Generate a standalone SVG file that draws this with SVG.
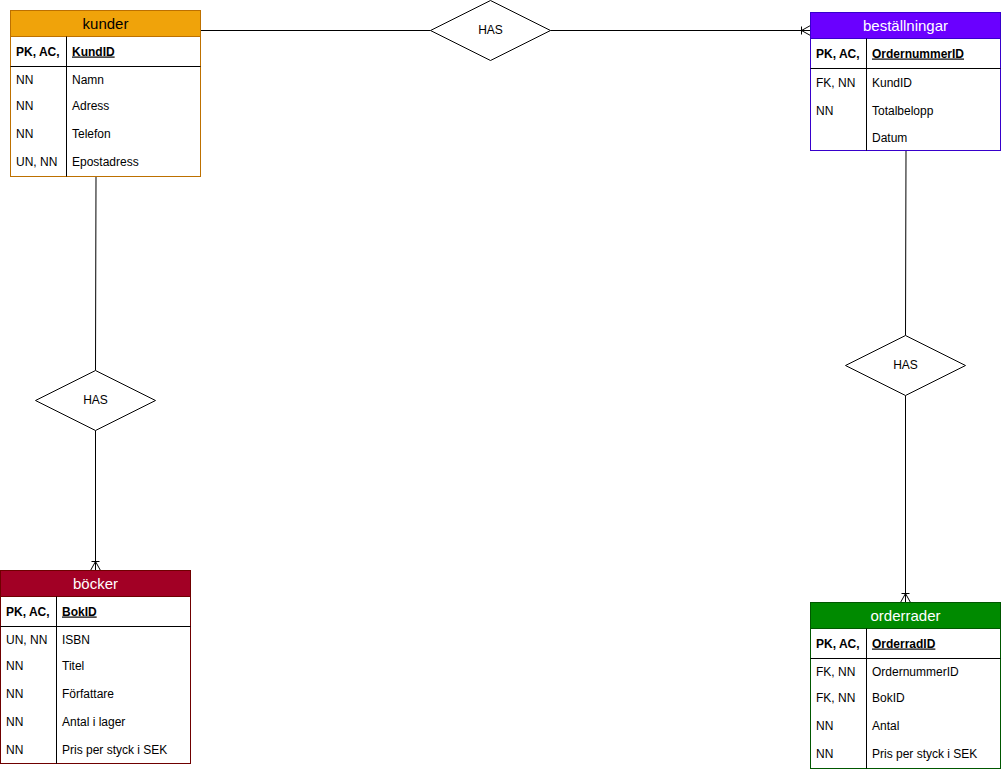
<svg xmlns="http://www.w3.org/2000/svg" width="1002" height="772" viewBox="0 0 1002 772">
<style>
text{font-family:"Liberation Sans",Arial,sans-serif;font-size:12px;fill:#000}
.title{font-size:15px;text-anchor:middle}
.w{fill:#fff}
.b{font-weight:bold}
.u{text-decoration:underline;font-weight:bold}
.line{stroke:#000;stroke-width:1;fill:none}
.rel{fill:#fff;stroke:#000;stroke-width:1}
.rel-t{text-anchor:middle}
</style>
<rect width="1002" height="772" fill="#fff"/>
<g id="connectors">
  <path class="line" d="M200.5 30.5 H430.5"/>
  <path class="line" d="M550.5 30.5 H810.5"/>
  <path class="line" d="M801.5 26.5 V34.5 M801.5 30.5 L810.5 25.5 M801.5 30.5 L810.5 35.5"/>
  <path class="line" d="M96 176.5 L95.5 370.5"/>
  <path class="line" d="M95.5 430.5 V570.5"/>
  <path class="line" d="M91.5 561.5 H99.5 M95.5 561.5 L90.5 570.5 M95.5 561.5 L100.5 570.5"/>
  <path class="line" d="M906 150.5 L905.5 335.5"/>
  <path class="line" d="M905.5 395.5 V602.5"/>
  <path class="line" d="M901.5 593.5 H909.5 M905.5 593.5 L900.5 602.5 M905.5 593.5 L910.5 602.5"/>
</g>
<g id="rel-top">
  <polygon class="rel" points="490.5,0.5 550.5,30.5 490.5,60.5 430.5,30.5"/>
  <text class="rel-t" x="490.5" y="34">HAS</text>
</g>
<g id="rel-left">
  <polygon class="rel" points="95.5,370.5 155.5,400.5 95.5,430.5 35.5,400.5"/>
  <text class="rel-t" x="95.5" y="404">HAS</text>
</g>
<g id="rel-right">
  <polygon class="rel" points="905.5,335.5 965.5,365.5 905.5,395.5 845.5,365.5"/>
  <text class="rel-t" x="905.5" y="369">HAS</text>
</g>
<g id="kunder">
  <rect x="10.5" y="10.5" width="190" height="166" fill="#fff" stroke="#BD7000"/>
  <rect x="10.5" y="10.5" width="190" height="26" fill="#f0a30a" stroke="#BD7000"/>
  <path class="line" d="M10.5 66.5 H200.5 M66.5 36.5 V176.5"/>
  <text class="title" x="105.5" y="28.5">kunder</text>
  <text class="b" x="16" y="55.5">PK, AC,</text>
  <text class="u" x="72" y="55.5">KundID</text>
  <text x="16" y="84">NN</text><text x="72" y="84">Namn</text>
  <text x="16" y="110">NN</text><text x="72" y="110">Adress</text>
  <text x="16" y="138">NN</text><text x="72" y="138">Telefon</text>
  <text x="16" y="166">UN, NN</text><text x="72" y="166">Epostadress</text>
</g>
<g id="bestallningar">
  <rect x="810.5" y="12.5" width="190" height="138" fill="#fff" stroke="#3700CC"/>
  <rect x="810.5" y="12.5" width="190" height="26" fill="#6a00ff" stroke="#3700CC"/>
  <path class="line" d="M810.5 68.5 H1000.5 M866.5 38.5 V150.5"/>
  <text class="title w" x="905.5" y="30.5">beställningar</text>
  <text class="b" x="816" y="57.5">PK, AC,</text>
  <text class="u" x="872" y="57.5">OrdernummerID</text>
  <text x="816" y="87">FK, NN</text><text x="872" y="87">KundID</text>
  <text x="816" y="115">NN</text><text x="872" y="115">Totalbelopp</text>
  <text x="872" y="142">Datum</text>
</g>
<g id="bocker">
  <rect x="0.5" y="570.5" width="190" height="193" fill="#fff" stroke="#6F0000"/>
  <rect x="0.5" y="570.5" width="190" height="26" fill="#a20025" stroke="#6F0000"/>
  <path class="line" d="M0.5 626.5 H190.5 M56.5 596.5 V763.5"/>
  <text class="title w" x="95.5" y="588.5">böcker</text>
  <text class="b" x="6" y="615.5">PK, AC,</text>
  <text class="u" x="62" y="615.5">BokID</text>
  <text x="6" y="644">UN, NN</text><text x="62" y="644">ISBN</text>
  <text x="6" y="670">NN</text><text x="62" y="670">Titel</text>
  <text x="6" y="698">NN</text><text x="62" y="698">Författare</text>
  <text x="6" y="726">NN</text><text x="62" y="726">Antal i lager</text>
  <text x="6" y="754">NN</text><text x="62" y="754">Pris per styck i SEK</text>
</g>
<g id="orderrader">
  <rect x="810.5" y="602.5" width="190" height="166" fill="#fff" stroke="#005700"/>
  <rect x="810.5" y="602.5" width="190" height="26" fill="#008a00" stroke="#005700"/>
  <path class="line" d="M810.5 658.5 H1000.5 M866.5 628.5 V768.5"/>
  <text class="title w" x="905.5" y="620.5">orderrader</text>
  <text class="b" x="816" y="647.5">PK, AC,</text>
  <text class="u" x="872" y="647.5">OrderradID</text>
  <text x="816" y="676">FK, NN</text><text x="872" y="676">OrdernummerID</text>
  <text x="816" y="702">FK, NN</text><text x="872" y="702">BokID</text>
  <text x="816" y="730">NN</text><text x="872" y="730">Antal</text>
  <text x="816" y="758">NN</text><text x="872" y="758">Pris per styck i SEK</text>
</g>
</svg>
